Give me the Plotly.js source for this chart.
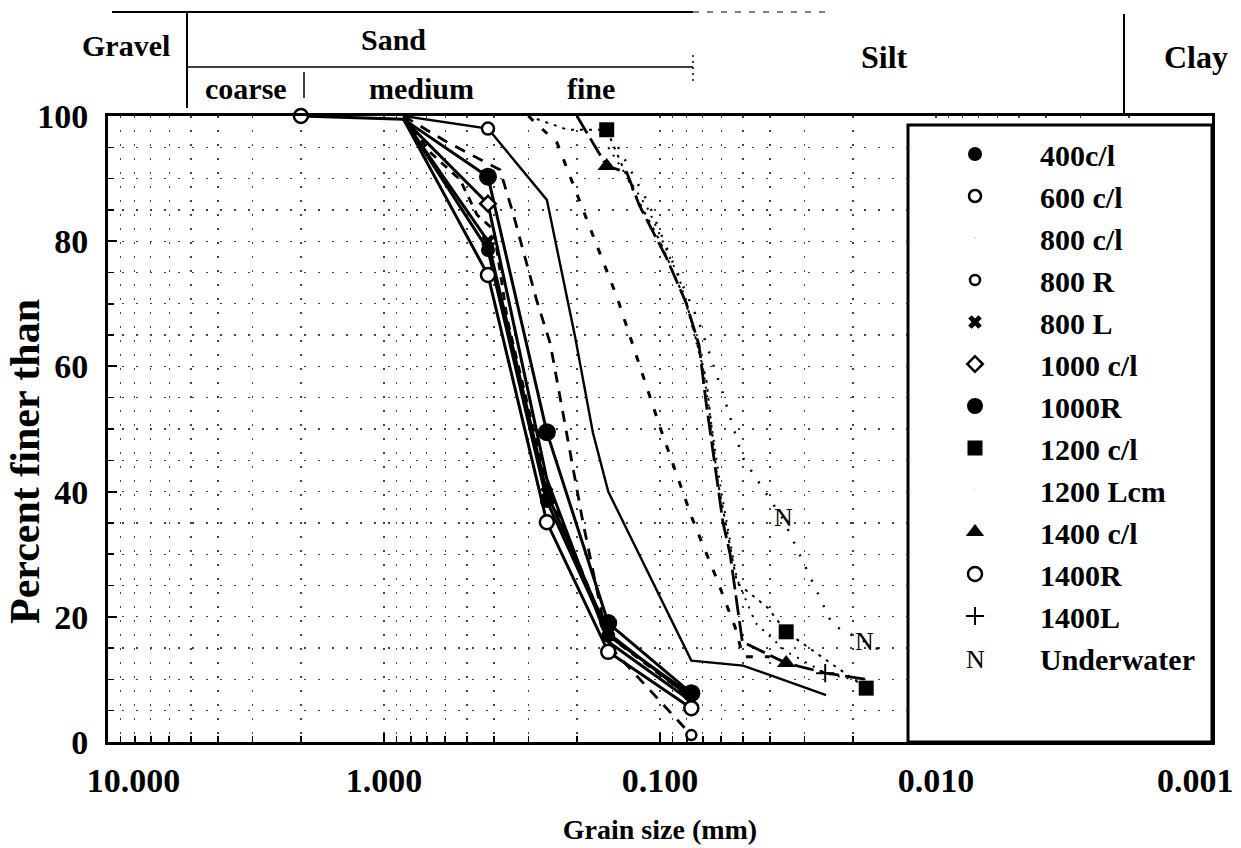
<!DOCTYPE html>
<html><head><meta charset="utf-8">
<script src="https://cdn.plot.ly/plotly-3.0.1.min.js"></script>
<style>html,body{margin:0;padding:0;background:#fff}#chart{width:1241px;height:848px}</style>
</head><body><div id="chart"></div>
<script>
// ---------- axis tick labels ----------
const xTickVals = [10, 1, 0.1, 0.01, 0.001];
const xTickText = ["\u00a0\u00a0\u00a0\u00a0\u00a0\u00a010.000", "1.000", "0.100", "0.010", "0.001"];
const yTickVals = [0, 20, 40, 60, 80, 100];
const yTickText = ["0", "20", "40", "60", "80", "100"];

// ---------- soil classes (header) ----------
const classNames = ["Gravel", "Sand", "Silt", "Clay"];
const sandNames = ["coarse", "medium", "fine"];

// ---------- series (grain size mm, percent finer) ----------
// 400c/l
const cl400X = [0.85, 0.42, 0.257, 0.154, 0.077];
const cl400Y = [99.5, 78.6, 38.5, 17, 7.5];
const cl400MX = [0.42, 0.257, 0.154, 0.077];
const cl400MY = [78.6, 38.5, 17, 7.5];
// 600 c/l
const cl600X = [0.85, 0.42, 0.257, 0.203, 0.175, 0.154, 0.077, 0.05, 0.025];
const cl600Y = [100, 98, 86.6, 64.7, 49.4, 40, 13, 12.2, 7.5];
const cl600MX = [0.42];
const cl600MY = [98];
// 800 c/l
const cl800X = [0.85, 0.68, 0.53, 0.46, 0.40, 0.357, 0.257, 0.154, 0.077];
const cl800Y = [100, 94.2, 89.8, 84.2, 81.8, 67.4, 41, 17, 7];
// 800 R
const r800X = [0.85, 0.6, 0.38, 0.341, 0.28, 0.25, 0.19, 0.154, 0.077];
const r800Y = [100, 96, 91.4, 84.5, 70.6, 63.7, 35, 15.5, 1.1];
const r800MX = [0.077];
const r800MY = [1.1];
// 800 L
const l800X = [0.85, 0.42, 0.257, 0.154, 0.077];
const l800Y = [99.5, 80, 39.8, 17.4, 7];
const l800MX = [0.42, 0.257, 0.154];
const l800MY = [80, 39.8, 17.4];
// 1000 c/l
const cl1000X = [0.85, 0.42, 0.257, 0.154, 0.077];
const cl1000Y = [99.5, 86, 42, 16, 6.5];
const cl1000MX = [0.42];
const cl1000MY = [86];
// 1000R
const r1000X = [0.85, 0.42, 0.257, 0.154, 0.077];
const r1000Y = [99.5, 90.3, 49.5, 19, 7.8];
// 1200 c/l
const cl1200X = [0.3, 0.216, 0.156, 0.125, 0.1, 0.08, 0.068, 0.062, 0.0526, 0.0406, 0.0349, 0.0179];
const cl1200Y = [100, 97.8, 97.8, 88, 80, 70, 58, 42, 25.4, 21.4, 17.6, 8.6];
const cl1200MX = [0.156, 0.0349, 0.0179];
const cl1200MY = [97.8, 17.6, 8.6];
// 1200 Lcm
const lcm1200X = [0.3, 0.236, 0.19, 0.165, 0.143, 0.1, 0.0766, 0.0621, 0.0535, 0.05, 0.04];
const lcm1200Y = [100, 95.7, 85, 78, 71, 50.3, 35.8, 25.9, 18.4, 13.6, 13.6];
// 1400 c/l
const cl1400X = [0.2, 0.156, 0.132, 0.119, 0.0946, 0.0802, 0.0722, 0.0681, 0.0591, 0.0557, 0.0522, 0.0503, 0.0349, 0.025, 0.0179];
const cl1400Y = [100, 92, 91, 85.8, 77.3, 70, 63.4, 54.3, 35, 30, 21, 16, 12.6, 11, 10];
const cl1400MX = [0.156, 0.0349];
const cl1400MY = [92, 12.6];
// 1400R
const r1400X = [2.0, 0.85, 0.42, 0.257, 0.154, 0.077];
const r1400Y = [100, 99.5, 74.6, 35.1, 14.4, 5.4];
const r1400MX = [2.0, 0.42, 0.257, 0.154, 0.077];
const r1400MY = [100, 74.6, 35.1, 14.4, 5.4];
// 1400L
const l1400X = [0.154, 0.11, 0.085, 0.07, 0.06, 0.0526, 0.045, 0.035, 0.0252, 0.0179];
const l1400Y = [95, 85, 74, 60, 40, 26, 19, 14.5, 11, 9.5];
const l1400MX = [0.0252];
const l1400MY = [11];
// Underwater
const uwX = [0.15, 0.11, 0.0913, 0.0722, 0.0597, 0.0503, 0.0357, 0.0237, 0.0177];
const uwY = [97, 86, 77.3, 67, 56.2, 45.5, 35.5, 18.7, 15.8];
const uwMX = [0.0357, 0.0177];
const uwMY = [35.5, 15.8];
const uwMText = ["N", "N."];

// ---------- build ----------
const SERIF = "Liberation Serif, Times New Roman, serif";
const K = "#000";
function lineTr(x, y, dash, width) {
  return {x: x, y: y, type: "scatter", mode: "lines", showlegend: false, hoverinfo: "skip",
          line: {color: K, width: width, dash: dash}};
}
function markTr(name, x, y, marker) {
  return {x: x, y: y, type: "scatter", mode: "markers", name: name, showlegend: true,
          cliponaxis: false, marker: marker};
}
const openM = (sym, size, w) => ({symbol: sym, size: size, color: "#fff", line: {color: K, width: w}});
const fillM = (sym, size) => ({symbol: sym, size: size, color: K, line: {color: K, width: 0}});

const traces = [
  lineTr(r1400X, r1400Y, "solid", 3),
  lineTr(cl400X, cl400Y, "solid", 3),
  lineTr(l800X, l800Y, "solid", 3),
  lineTr(cl1000X, cl1000Y, "solid", 3),
  lineTr(r1000X, r1000Y, "solid", 3),
  lineTr(cl800X, cl800Y, "8px,7px", 2.8),
  lineTr(r800X, r800Y, "11px,9px", 2.8),
  lineTr(cl600X, cl600Y, "solid", 2.4),
  lineTr(lcm1200X, lcm1200Y, "7px,12px", 3),
  lineTr(cl1400X, cl1400Y, "20px,6px", 2.8),
  lineTr(cl1200X, cl1200Y, "3px,6px", 2),
  lineTr(l1400X, l1400Y, "2px,7px", 2),
  lineTr(uwX, uwY, "2px,12px", 2.5),
  // legend / marker traces
  markTr("400c/l", cl400MX, cl400MY, fillM("circle", 14)),
  markTr("600 c/l", cl600MX, cl600MY, openM("circle", 12, 2.5)),
  markTr("800 c/l", cl800X, cl800Y, {size: 2, opacity: 0}),
  markTr("800 R", r800MX, r800MY, openM("circle", 10, 2.5)),
  markTr("800 L", l800MX, l800MY, {symbol: "x", size: 12, color: K, line: {width: 0}}),
  markTr("1000 c/l", cl1000MX, cl1000MY, openM("diamond", 12, 2.5)),
  markTr("1000R", r1000X.slice(1), r1000Y.slice(1), fillM("circle", 18)),
  markTr("1200 c/l", cl1200MX, cl1200MY, fillM("square", 15)),
  markTr("1200 Lcm", lcm1200X, lcm1200Y, {size: 2, opacity: 0}),
  markTr("1400 c/l", cl1400MX, cl1400MY, fillM("triangle-up", 16)),
  markTr("1400R", r1400MX, r1400MY, openM("circle", 14, 2.5)),
  markTr("1400L", l1400MX, l1400MY, {symbol: "cross-thin-open", size: 13, color: K, line: {color: K, width: 2}}),
  markTr("Underwater", uwMX, uwMY, {size: 2, opacity: 0}),
  {x: uwMX, y: uwMY, type: "scatter", mode: "text", text: uwMText, showlegend: false, cliponaxis: false,
   textposition: "middle center", textfont: {family: SERIF, size: 26, color: K}}
];

// pixel helpers for layout decorations (plot area 108..1212 x 116..742)
const PL = 108, PR = 1212, PT = 116, PB = 742;
const px = v => (v - PL) / (PR - PL);
const py = v => (PB - v) / (PB - PT);

const minorVals = [];
[1, 0.1, 0.01, 0.001].forEach(d => { for (let k = 2; k <= 9; k++) minorVals.push(k * d); });

const gridStyle = {gridcolor: "#444", gridwidth: 1.4, griddash: "2px,12px"};
const tickFont = {family: SERIF, size: 34, color: K, weight: "bold"};
const hdrFont = {family: SERIF, size: 30, color: K, weight: "bold"};

const shapes = [
  // legend frame
  {type: "rect", xref: "paper", yref: "paper", x0: px(908), x1: 1, y0: 0, y1: py(125),
   layer: "above", fillcolor: "#fff", line: {color: K, width: 3}},
  // header table lines
  {type: "line", xref: "paper", yref: "paper", x0: px(112), x1: px(693), y0: py(12), y1: py(12), line: {color: K, width: 2}},
  {type: "line", xref: "paper", yref: "paper", x0: px(693), x1: px(830), y0: py(12), y1: py(12), line: {color: "#555", width: 1.5, dash: "6px,8px"}},
  {type: "line", xref: "paper", yref: "paper", x0: px(187), x1: px(187), y0: py(12), y1: py(108), line: {color: K, width: 2}},
  {type: "line", xref: "paper", yref: "paper", x0: px(187), x1: px(693), y0: py(67), y1: py(67), line: {color: K, width: 1.5}},
  {type: "line", xref: "paper", yref: "paper", x0: px(304), x1: px(304), y0: py(72), y1: py(98), line: {color: K, width: 1.5}},
  {type: "line", xref: "paper", yref: "paper", x0: px(693), x1: px(693), y0: py(55), y1: py(84), line: {color: K, width: 1.5, dash: "2px,4px"}},
  {type: "line", xref: "paper", yref: "paper", x0: px(1124), x1: px(1124), y0: py(14), y1: py(114), line: {color: K, width: 2}}
];

function hdr(text, x, y, size) {
  return {xref: "paper", yref: "paper", x: px(x), y: py(y), text: text, showarrow: false,
          xanchor: "center", yanchor: "middle", font: Object.assign({}, hdrFont, size ? {size: size} : {})};
}
const annotations = [
  hdr(classNames[0], 126, 45),
  hdr(classNames[1], 393, 40),
  hdr(classNames[2], 884, 57, 32),
  hdr(classNames[3], 1196, 57, 32),
  hdr(sandNames[0], 246, 88),
  hdr(sandNames[1], 421, 88),
  hdr(sandNames[2], 591, 88),
  // y axis title
  {xref: "paper", yref: "paper", x: px(25), y: py(462), text: "Percent finer than", showarrow: false,
   textangle: -90, xanchor: "center", yanchor: "middle",
   font: {family: SERIF, size: 42, color: K, weight: "bold"}},
  // "N" symbol for the Underwater legend entry
  {xref: "paper", yref: "paper", x: px(975), y: py(659), text: "N", showarrow: false,
   xanchor: "center", yanchor: "middle", font: {family: SERIF, size: 26, color: K}}
];

// the last x tick label is right-aligned so it stays inside the picture
const lastIdx = xTickVals.length - 1;
annotations.push({xref: "paper", yref: "paper", x: px(1236), y: py(780), text: xTickText[lastIdx],
  showarrow: false, xanchor: "right", yanchor: "middle", font: tickFont});
const xTickShown = xTickText.map((t, i) => i === lastIdx ? "" : t);

const layout = {
  width: 1241, height: 848,
  paper_bgcolor: "#fff", plot_bgcolor: "#fff",
  margin: {l: PL, r: 1241 - PR, t: PT, b: 848 - PB, pad: 0},
  showlegend: true,
  legend: {x: px(910), xanchor: "left", y: py(128), yanchor: "top",
           bgcolor: "rgba(0,0,0,0)", borderwidth: 0, itemwidth: 120,
           font: {family: SERIF, size: 30, color: K, weight: "bold"}},
  xaxis: Object.assign({
    type: "log", range: [1, -3], autorange: false,
    tickmode: "array", tickvals: xTickVals, ticktext: xTickShown,
    ticks: "inside", ticklen: 9, tickwidth: 2, tickcolor: K,
    showline: true, linewidth: 3, linecolor: K, mirror: true, zeroline: false,
    showgrid: true, tickfont: tickFont, ticklabelstandoff: 6, ticklabeloverflow: "allow",
    minor: Object.assign({tickmode: "array", tickvals: minorVals, ticks: "inside", ticklen: 6,
                          tickwidth: 1.5, tickcolor: K, showgrid: true}, gridStyle),
    title: {text: "Grain size (mm)", font: {family: SERIF, size: 28, color: K, weight: "bold"}, standoff: 22}
  }, gridStyle),
  yaxis: Object.assign({
    range: [0, 100], autorange: false,
    tickmode: "array", tickvals: yTickVals, ticktext: yTickText,
    ticks: "inside", ticklen: 9, tickwidth: 2, tickcolor: K,
    showline: true, linewidth: 3, linecolor: K, mirror: true, zeroline: false,
    showgrid: true, tickfont: tickFont, ticklabelstandoff: 10, ticklabeloverflow: "allow",
    minor: Object.assign({dtick: 5, ticks: "inside", ticklen: 6, tickwidth: 1.5, tickcolor: K, showgrid: true}, gridStyle)
  }, gridStyle),
  shapes: shapes,
  annotations: annotations
};

Plotly.newPlot("chart", traces, layout, {staticPlot: true, displayModeBar: false});
</script>
</body></html>
